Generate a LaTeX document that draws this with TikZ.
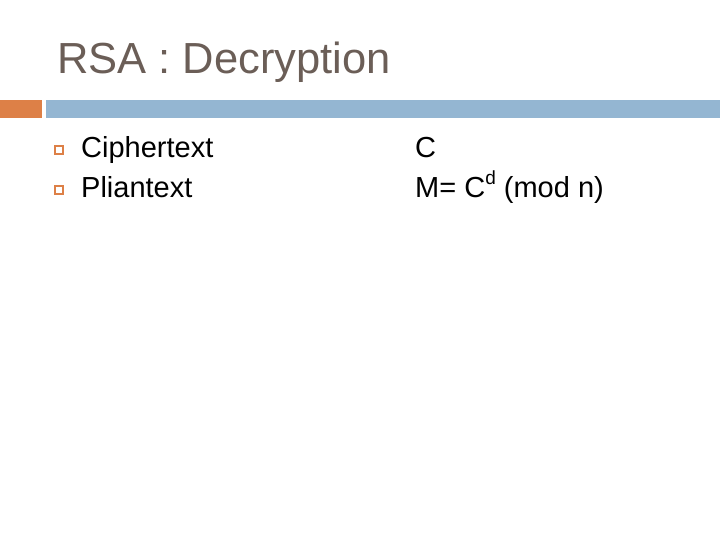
\documentclass[tikz,border=0pt]{standalone}
\usepackage{fontspec}
\setmainfont{Liberation Sans}
\definecolor{ttl}{HTML}{6B5E57}
\definecolor{org}{HTML}{DD8047}
\definecolor{blu}{HTML}{94B6D2}
\tikzset{x=1pt,y=-1pt,
 body/.style={anchor=base west,inner sep=0pt,font=\fontsize{29}{33}\selectfont},
 bul/.style={draw=org,line width=1.2pt,minimum size=8pt,inner sep=0pt}}
\begin{document}
\begin{tikzpicture}
\useasboundingbox[fill=white] (0,0) rectangle (720,540);
\node[anchor=base west,inner sep=0pt,text=ttl,font=\fontsize{43.5}{48}\selectfont] (title) at (57,74) {RSA : Decryption};
\fill[org] (0,100) rectangle (42,118);
\fill[blu] (46,100) rectangle (720,118);
\node[bul] (b1) at (59,150) {};
\node[bul] (b2) at (59,190) {};
\node[body] (t1) at (81,158) {Ciphertext};
\node[body] (t2) at (81,198) {Pliantext};
\node[body] (c) at (415,158) {C};
\node[body] (m) at (415,198) {M= C\raisebox{0.45em}{\fontsize{19}{21}\selectfont d} (mod n)};
\end{tikzpicture}
\end{document}
